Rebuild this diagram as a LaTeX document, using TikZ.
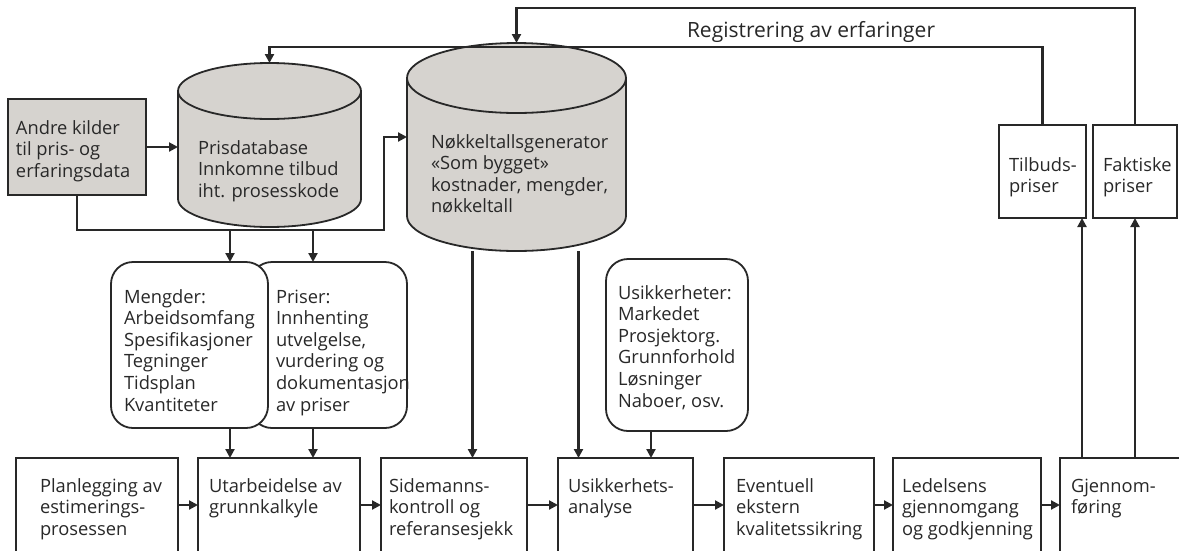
\documentclass[tikz,border=0pt]{standalone}
\usepackage{fontspec}
\setmainfont{Open Sans}
\usetikzlibrary{arrows.meta}
\definecolor{ink}{RGB}{40,40,40}
\definecolor{dbgray}{RGB}{214,211,207}
\begin{document}
\begin{tikzpicture}[x=1pt,y=-1pt,
  every node/.style={inner sep=0pt, outer sep=0pt},
  % multi-line text is placed by the baseline of its last line
  txt/.style={anchor=base west, align=left, text=ink, font=\fontsize{18.3pt}{21.6pt}\selectfont},
  title/.style={txt, font=\fontsize{21pt}{24pt}\selectfont},
  bx/.style={draw=ink, line width=1.8pt, fill=white, anchor=north west},
  gbx/.style={bx, fill=dbgray},
  rbx/.style={bx, rounded corners=22pt},
  cylbody/.style={anchor=north west},
  cylshape/.style={draw=ink, line width=1.8pt, fill=dbgray},
  conn/.style={draw=ink, line width=2.1pt},
  arr/.style={conn, -{Triangle[length=9pt,width=9pt]}},
]
\useasboundingbox[fill=white] (0,0) rectangle (1179,550);

% --- data sources and databases ---
\node[gbx, minimum width=138pt, minimum height=96pt] (andre) at (8,99) {};

\node[cylbody, minimum width=183pt, minimum height=164pt] (pdb) at (178,63) {};
\draw[cylshape] ([yshift=-28pt]pdb.north west) -- ([yshift=28pt]pdb.south west)
  arc[start angle=180, end angle=360, x radius=91.5pt, y radius=28pt]
  -- ([yshift=-28pt]pdb.north east)
  arc[start angle=0, end angle=180, x radius=91.5pt, y radius=28pt] -- cycle;
\draw[cylshape, fill=none] ([yshift=-28pt]pdb.north west)
  arc[start angle=180, end angle=360, x radius=91.5pt, y radius=28pt];

\node[cylbody, minimum width=219pt, minimum height=208pt] (nk) at (407,43) {};
\draw[cylshape] ([yshift=-35pt]nk.north west) -- ([yshift=35pt]nk.south west)
  arc[start angle=180, end angle=360, x radius=109.5pt, y radius=35pt]
  -- ([yshift=-35pt]nk.north east)
  arc[start angle=0, end angle=180, x radius=109.5pt, y radius=35pt] -- cycle;
\draw[cylshape, fill=none] ([yshift=-35pt]nk.north west)
  arc[start angle=180, end angle=360, x radius=109.5pt, y radius=35pt];

% --- price boxes on the right ---
\node[bx, minimum width=87pt, minimum height=93pt] (tilb) at (999,125) {};
\node[bx, minimum width=84pt, minimum height=93pt] (fakt) at (1093,125) {};

% --- input boxes ---
\node[rbx, minimum width=157pt, minimum height=166pt] (pris) at (250,262) {};
\node[rbx, minimum width=157pt, minimum height=166pt] (meng) at (111,262) {};
\node[rbx, minimum width=142pt, minimum height=172pt] (unc) at (606,259) {};

% --- process steps ---
\node[bx, minimum width=162pt, minimum height=100pt] (plan)  at (16,458) {};
\node[bx, minimum width=162pt, minimum height=100pt] (utarb) at (198,458) {};
\node[bx, minimum width=146pt, minimum height=100pt] (sid)   at (381,458) {};
\node[bx, minimum width=135pt, minimum height=100pt] (usik)  at (558,458) {};
\node[bx, minimum width=150pt, minimum height=100pt] (event) at (724,458) {};
\node[bx, minimum width=148pt, minimum height=100pt] (led)   at (893,458) {};
\node[bx, minimum width=160pt, minimum height=100pt] (gjen)  at (1060,458) {};

% --- texts ---
\node[title] at (687,37) {Registrering av erfaringer};
\node[txt] at (16,177.2) {Andre kilder\\til pris- og\\erfaringsdata};
\node[txt] at (198,197.2) {Prisdatabase\\Innkomne tilbud\\iht. prosesskode};
\node[txt] at (431,212.8) {Nøkkeltallsgenerator\\«Som bygget»\\kostnader, mengder,\\nøkkeltall};
\node[txt] at (1009,192.6) {Tilbuds-\\priser};
\node[txt] at (1103,192.6) {Faktiske\\priser};
\node[txt] at (124,411) {Mengder:\\Arbeidsomfang\\Spesifikasjoner\\Tegninger\\Tidsplan\\Kvantiteter};
\node[txt] at (276,411) {Priser:\\Innhenting\\utvelgelse,\\vurdering og\\dokumentasjon\\av priser};
\node[txt] at (618,407) {Usikkerheter:\\Markedet\\Prosjektorg.\\Grunnforhold\\Løsninger\\Naboer, osv.};
\node[txt] at (40,535.2)   {Planlegging av\\estimerings-\\prosessen};
\node[txt] at (209,513.6)  {Utarbeidelse av\\grunnkalkyle};
\node[txt] at (389,535.2)  {Sidemanns-\\kontroll og\\referansesjekk};
\node[txt] at (568,513.6)  {Usikkerhets-\\analyse};
\node[txt] at (736,535.2)  {Eventuell\\ekstern\\kvalitetssikring};
\node[txt] at (902,535.2)  {Ledelsens\\gjennomgang\\og godkjenning};
\node[txt] at (1071,513.6) {Gjennom-\\føring};

% --- connectors ---
\coordinate (busR) at (384,230);
\coordinate (b1) at (230,230);
\coordinate (b2) at (313,230);
\coordinate (ta) at ([xshift=-4pt]tilb.south east);
\coordinate (n1) at ([xshift=-44pt]nk.south);
\coordinate (n2) at ([xshift=62pt]nk.south);
\coordinate (u1) at ([xshift=-26pt]unc.south);

\draw[arr] (andre.east) -- (andre.east -| pdb.west);
\draw[arr] (andre.south) |- (busR) |- ([yshift=10pt]nk.west);
\draw[arr] (b1) -- (b1 |- meng.north);
\draw[arr] (b2) -- (b2 |- pris.north);
\draw[arr] (b1 |- meng.south) -- (b1 |- utarb.north);
\draw[arr] (b2 |- pris.south) -- (b2 |- utarb.north);
\draw[arr] (n1) -- (n1 |- sid.north);
\draw[arr] (n2) -- (n2 |- usik.north);
\draw[arr] (u1) -- (u1 |- usik.north);

\draw[arr] ([yshift=3pt]plan.east)  -- ([yshift=3pt]utarb.west);
\draw[arr] ([yshift=3pt]utarb.east) -- ([yshift=3pt]sid.west);
\draw[arr] ([yshift=3pt]sid.east)   -- ([yshift=3pt]usik.west);
\draw[arr] ([yshift=3pt]usik.east)  -- ([yshift=3pt]event.west);
\draw[arr] ([yshift=3pt]event.east) -- ([yshift=3pt]led.west);
\draw[arr] ([yshift=3pt]led.east)   -- ([yshift=3pt]gjen.west);

\draw[arr] (ta |- gjen.north) -- (ta);
\draw[arr] (fakt.south |- gjen.north) -- (fakt.south);

\draw[arr] (fakt.north) |- ([yshift=35pt]nk.north) -- (nk.north);
\draw[arr] (tilb.north) |- ([yshift=16pt]pdb.north) -- (pdb.north);
\end{tikzpicture}
\end{document}
